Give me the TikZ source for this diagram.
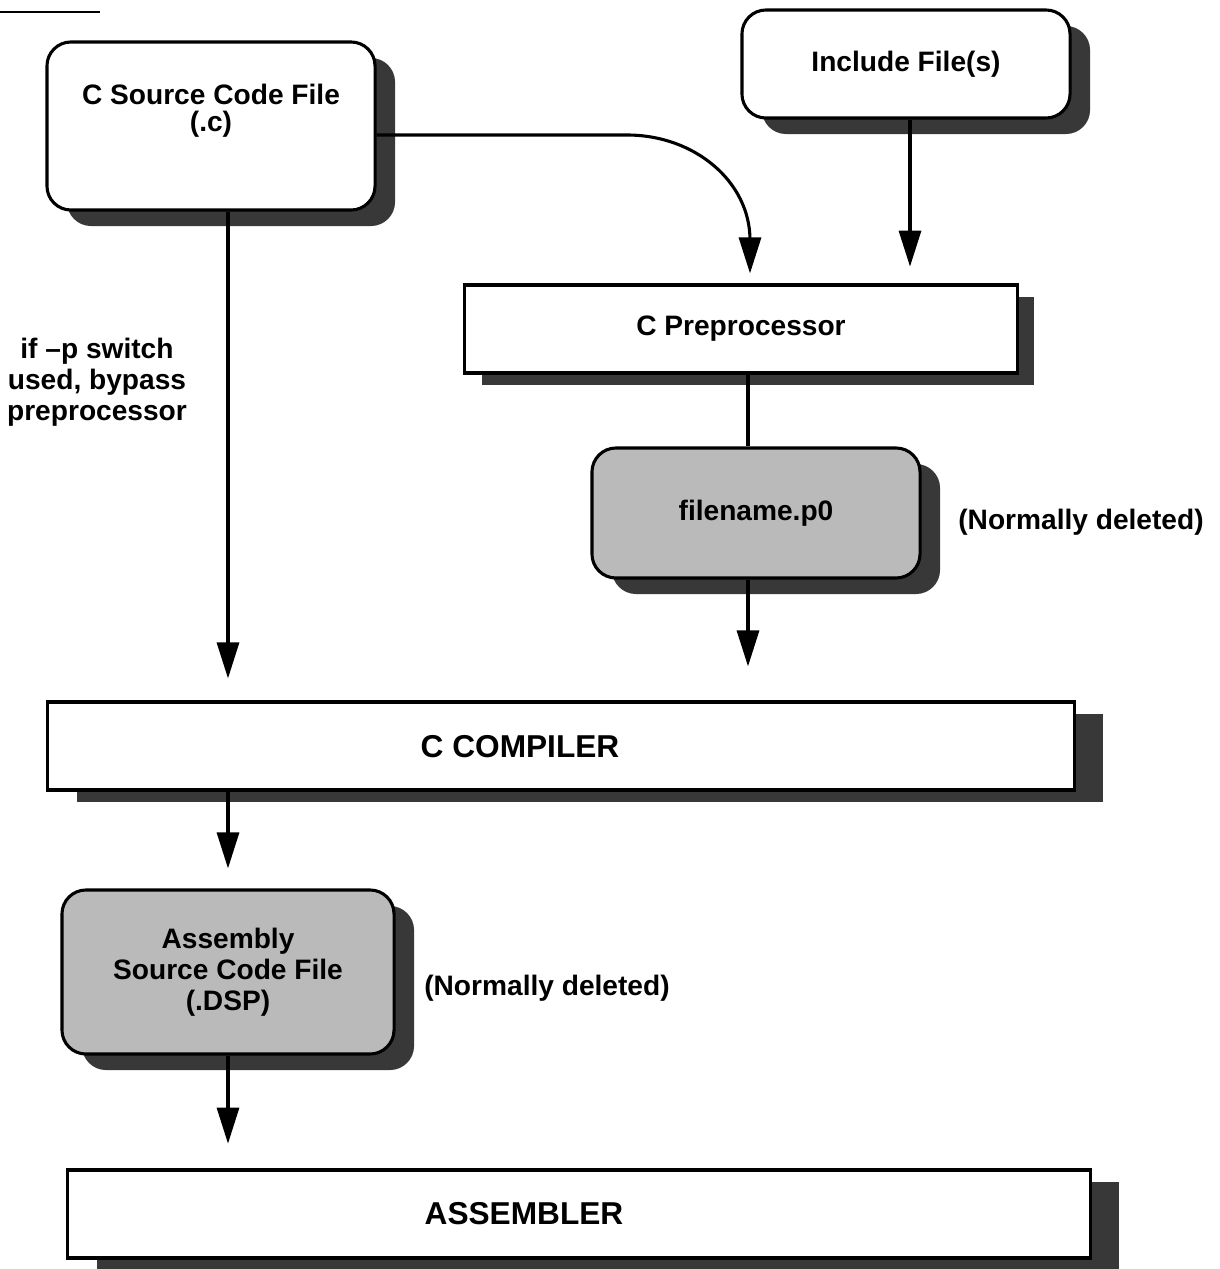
\documentclass[tikz,border=0pt]{standalone}
\usepackage{fontspec}
\setmainfont{Liberation Sans}
\usetikzlibrary{arrows.meta,shadows}
\newcommand\boxfont{\bfseries\fontsize{20}{22}\selectfont}
\newcommand\bigfont{\bfseries\fontsize{22.5}{25}\selectfont}
\begin{document}
\begin{tikzpicture}[x=0.025cm, y=-0.025cm, line width=2.2pt,
  shadowfill/.style={fill=black!78, opacity=1},
  file/.style={draw, rounded corners=0.6cm, fill=white, align=center, font=\boxfont, drop shadow={shadow xshift=0.5cm, shadow yshift=-0.4cm, shadowfill}},
  stage/.style={draw, fill=white, font=\boxfont, drop shadow={shadow xshift=#1, shadow yshift=-0.3cm, shadowfill}},
  stage/.default=0.72cm,
  big/.style={font=\bigfont},
  note/.style={font=\boxfont, align=center},
  arr/.style={-{Triangle[length=0.9cm,width=0.55cm]}}]
  \useasboundingbox (0,0) rectangle (1220,1269);
  \draw[line width=0.8pt] (0,12) -- (100,12);

  \node[file, minimum width=8.2cm, minimum height=4.2cm] (src) at (211,126) {C Source Code File\\[-3pt](.c)\\[4pt]};
  \node[file, minimum width=8.2cm, minimum height=2.7cm] (inc) at (906,64) {Include File(s)};
  \node[stage=0.42cm, minimum width=13.8cm, minimum height=2.2cm] (pre) at (741,329) {C Preprocessor};
  \node[file, fill=black!27, minimum width=8.2cm, minimum height=3.25cm] (p0) at (756,513) {filename.p0};
  \node[stage, minimum width=25.65cm, minimum height=2.2cm] (comp) at (561,746) {};
  \node[file, fill=black!27, minimum width=8.3cm, minimum height=4.1cm] (asm) at (228,972) {Assembly\\Source Code File\\(.DSP)};
  \node[stage, minimum width=25.55cm, minimum height=2.2cm] (asmb) at (579,1214) {};

  \node[big] (comptxt) at (520,747) {C COMPILER};
  \node[big] (asmbtxt) at (524,1214) {ASSEMBLER};
  \node[note] (bypass) at (97,382) {if –p switch\\used, bypass\\preprocessor};
  \node[note] (del1) at (1081,522) {(Normally deleted)};
  \node[note] (del2) at (547,988) {(Normally deleted)};

  \draw[arr, shorten >=0.25cm] ([yshift=-0.225cm]src.east) -- (627,135) .. controls (695,135) and (750,182) .. (750,240) -- (pre.north -| 750,0);
  \draw[arr, shorten >=0.42cm] (inc.south -| 910,0) -- (pre.north -| 910,0);
  \draw[arr, shorten >=0.55cm] (src.south -| 228,0) -- (comp.north -| 228,0);
  \draw (pre.south -| 748,0) -- (p0.north -| 748,0);
  \draw[arr, shorten >=0.85cm] (p0.south -| 748,0) -- (comp.north -| 748,0);
  \draw[arr, shorten >=0.5cm] (comp.south -| 228,0) -- (asm.north -| 228,0);
  \draw[arr, shorten >=0.62cm] (asm.south -| 228,0) -- (asmb.north -| 228,0);
\end{tikzpicture}
\end{document}
